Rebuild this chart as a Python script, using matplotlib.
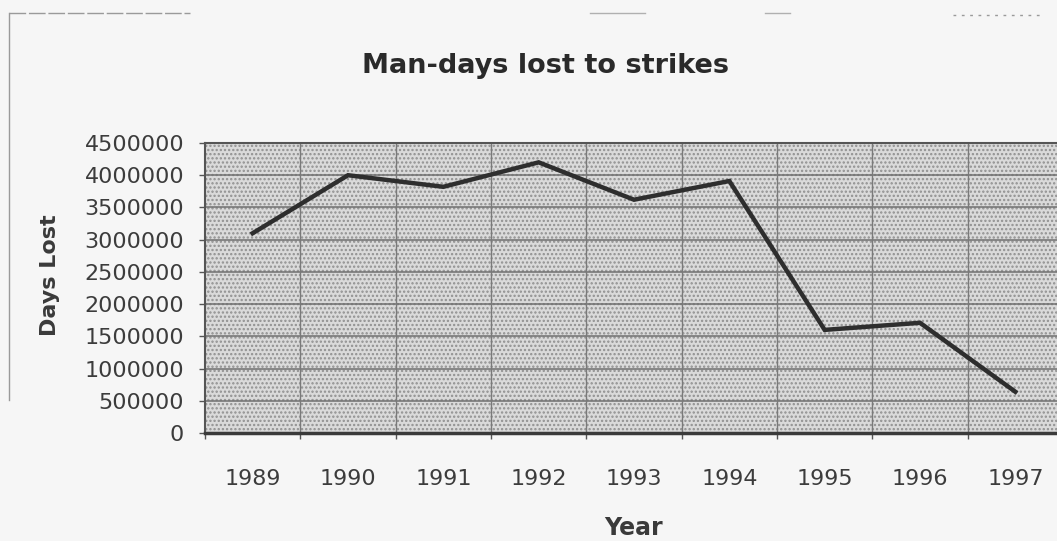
import matplotlib
matplotlib.use("Agg")
import matplotlib.pyplot as plt
from matplotlib.patches import Rectangle
from matplotlib.lines import Line2D
from matplotlib.ticker import FixedLocator, FuncFormatter

years = ["1989", "1990", "1991", "1992", "1993", "1994", "1995", "1996", "1997"]
days_lost = [3100000, 4000000, 3820000, 4200000, 3620000, 3910000, 1600000, 1710000, 640000]
y_ticks = [0, 500000, 1000000, 1500000, 2000000, 2500000, 3000000, 3500000, 4000000, 4500000]

title = "Man-days lost to strikes"
x_label = "Year"
y_label = "Days Lost"

plt.rcParams['font.family'] = ['DejaVu Sans']
plt.rcParams['hatch.linewidth'] = 1.1
plt.rcParams['hatch.color'] = '#909090'

W, H = 1057, 541
fig = plt.figure(figsize=(W / 100, H / 100), dpi=100)
fig.patch.set_facecolor('#f6f6f6')

left, right, top, bottom = 205, 1063, 143, 433
ax = fig.add_axes([left / W, 1 - bottom / H, (right - left) / W, (bottom - top) / H])
ax.set_facecolor('#dadada')

x = list(range(len(years)))
ax.set_xlim(-0.5, len(years) - 0.5)
ax.set_ylim(0, 4500000)

# stipple pattern
ax.add_patch(Rectangle((0, 0), 1, 1, transform=ax.transAxes, facecolor='none',
                       edgecolor='#909090', hatch='....', lw=0, zorder=0.5))

# gridlines
for v in y_ticks[1:]:
    ax.axhline(v, color='#707070', lw=1.1, zorder=1)
for b in range(1, len(years)):
    ax.axvline(b - 0.5, color='#7a7a7a', lw=1.0, zorder=1)

ax.plot(x, days_lost, color='#2e2e2e', lw=3.2, solid_joinstyle='miter', zorder=3)

for s in ['left', 'top', 'right']:
    ax.spines[s].set_color('#555555')
    ax.spines[s].set_linewidth(1.5)
ax.spines['bottom'].set_color('#3a3a3a')
ax.spines['bottom'].set_linewidth(2.5)

ax.yaxis.set_major_locator(FixedLocator(y_ticks))
ax.yaxis.set_major_formatter(FuncFormatter(lambda v, p: f"{int(v)}"))
ax.tick_params(axis='y', length=4, width=1, color='#555555', pad=11,
               labelsize=16, labelcolor='#3c3c3c')

ax.set_xticks(x)
ax.set_xticklabels(years)
ax.tick_params(axis='x', which='major', length=0, pad=26, labelsize=16, labelcolor='#3c3c3c')
ax.set_xticks([b - 0.5 for b in range(len(years) + 1)], minor=True)
ax.tick_params(axis='x', which='minor', length=4, width=1, color='#555555')

fig.text(545 / W, 1 - 66 / H, title, ha='center', va='center', fontsize=19.5,
         fontweight='bold', color='#2a2a2a')
fig.text(633 / W, 1 - 528 / H, x_label, ha='center', va='center', fontsize=17,
         fontweight='bold', color='#3a3a3a')
fig.text(50 / W, 1 - 275 / H, y_label, ha='center', va='center', fontsize=16,
         fontweight='bold', color='#3a3a3a', rotation=90)

# faint outer chart border from the scan
fig.add_artist(Line2D([9 / W, 9 / W], [1 - 13 / H, 1 - 400 / H], color='#9a9a9a', lw=1))
fig.add_artist(Line2D([9 / W, 190 / W], [1 - 13 / H, 1 - 13 / H], color='#9a9a9a', lw=1,
                      linestyle=(0, (12, 2))))
fig.add_artist(Line2D([590 / W, 645 / W], [1 - 13 / H, 1 - 13 / H], color='#b0b0b0', lw=1))
fig.add_artist(Line2D([765 / W, 790 / W], [1 - 13 / H, 1 - 13 / H], color='#b0b0b0', lw=1))
fig.add_artist(Line2D([953 / W, 1040 / W], [1 - 15 / H, 1 - 15 / H], color='#9a9a9a', lw=1,
                      linestyle=(0, (2, 4))))

fig.savefig("out.png", dpi=100, facecolor=fig.get_facecolor())
